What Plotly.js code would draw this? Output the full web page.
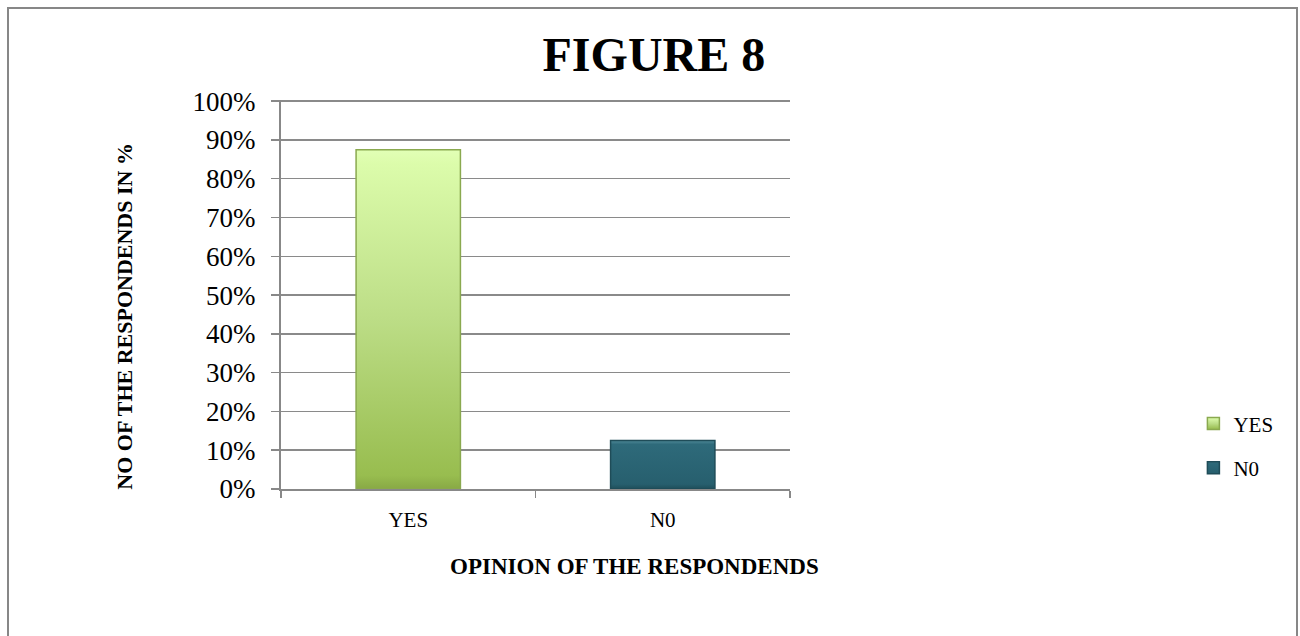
<!DOCTYPE html>
<html>
<head>
<meta charset="utf-8">
<script src="https://cdn.plot.ly/plotly-3.0.1.min.js"></script>
<style>
  html, body { margin: 0; padding: 0; background: #fff; }
  #wrap { position: relative; width: 1300px; height: 636px; overflow: hidden; }
  #chart { width: 1300px; height: 636px; }
  #frame { position: absolute; left: 7px; top: 7px; width: 1291px; height: 660px;
           border: 2px solid #878787; pointer-events: none; box-sizing: border-box; }
</style>
</head>
<body>
<div id="wrap">
  <div id="chart"></div>
  <div id="frame"></div>
</div>
<script>
const categories = ["YES", "N0"];
const seriesNames = ["YES", "N0"];
const values = [87.5, 12.5];
const yTickVals = [0, 10, 20, 30, 40, 50, 60, 70, 80, 90, 100];
const yTickText = ["0%", "10%", "20%", "30%", "40%", "50%", "60%", "70%", "80%", "90%", "100%"];

const fillColors = ["#b6d97a", "#2a6474"];
const lineColors = ["#8aa94f", "#1f4c58"];
const serif = "Liberation Serif, Times New Roman, serif";

const traces = categories.map((c, i) => ({
  type: "bar",
  name: seriesNames[i],
  legendgroup: "g" + i,
  x: [c],
  y: [values[i]],
  marker: { color: fillColors[i], line: { color: lineColors[i], width: 1.5 } },
  hoverinfo: "skip"
}));

const layout = {
  width: 1300,
  height: 636,
  margin: { l: 281, r: 510, t: 100, b: 147, autoexpand: false },
  paper_bgcolor: "#ffffff",
  plot_bgcolor: "#ffffff",
  barmode: "overlay",
  bargap: 0.59,
  showlegend: true,
  title: {
    text: "<b>FIGURE 8</b>",
    font: { family: serif, size: 48, color: "#000" },
    x: 0.503, xanchor: "center",
    y: 0.915, yanchor: "middle"
  },
  xaxis: {
    type: "category",
    categoryorder: "array",
    categoryarray: categories,
    tickson: "boundaries",
    ticks: "outside",
    ticklen: 7,
    tickwidth: 1.5,
    tickcolor: "#888",
    showline: true,
    linecolor: "#888",
    linewidth: 2,
    ticklabelstandoff: 11,
    tickfont: { family: serif, size: 21, color: "#000" },
    fixedrange: true
  },
  yaxis: {
    range: [0, 100.3],
    tickvals: yTickVals,
    ticktext: yTickText,
    ticks: "outside",
    ticklen: 8,
    tickwidth: 1.5,
    tickcolor: "#888",
    showgrid: true,
    gridcolor: "#8a8a8a",
    gridwidth: 1.5,
    showline: true,
    linecolor: "#888",
    linewidth: 2,
    zeroline: false,
    ticklabelstandoff: 10,
    tickfont: { family: serif, size: 27, color: "#000" },
    fixedrange: true
  },
  legend: {
    xref: "container", yref: "container",
    x: 0.918, xanchor: "left",
    y: 0.299, yanchor: "middle",
    font: { family: serif, size: 21, color: "#000" },
    itemwidth: 30,
    tracegroupgap: 14,
    bgcolor: "rgba(0,0,0,0)"
  },
  annotations: [
    {
      text: "<b>OPINION OF THE RESPONDENDS</b>",
      xref: "paper", yref: "paper",
      x: 0.695, y: -0.2, xanchor: "center", yanchor: "middle",
      showarrow: false,
      font: { family: serif, size: 23, color: "#000" }
    },
    {
      text: "<b>NO OF THE RESPONDENDS IN %</b>",
      xref: "paper", yref: "paper",
      x: -0.307, y: 0.445, xanchor: "center", yanchor: "middle",
      textangle: -90,
      showarrow: false,
      font: { family: serif, size: 22, color: "#000" }
    }
  ]
};

function applyGradients(gd) {
  const svg = gd.querySelector("svg.main-svg");
  if (!svg) return;
  const ns = "http://www.w3.org/2000/svg";
  let defs = svg.querySelector("defs");
  if (!defs) { defs = document.createElementNS(ns, "defs"); svg.insertBefore(defs, svg.firstChild); }
  function addGrad(id, stops) {
    if (svg.querySelector("#" + id)) return;
    const g = document.createElementNS(ns, "linearGradient");
    g.setAttribute("id", id);
    g.setAttribute("x1", "0"); g.setAttribute("y1", "0");
    g.setAttribute("x2", "0"); g.setAttribute("y2", "1");
    stops.forEach(s => {
      const st = document.createElementNS(ns, "stop");
      st.setAttribute("offset", s[0]);
      st.setAttribute("stop-color", s[1]);
      g.appendChild(st);
    });
    defs.appendChild(g);
  }
  addGrad("gradYes", [["0", "#e2ffb6"], ["0.04", "#dcfcab"], ["0.5", "#bcdd86"], ["0.96", "#98bd4f"], ["1", "#88a945"]]);
  addGrad("gradNo", [["0", "#4f8a99"], ["0.08", "#2e6a7a"], ["0.9", "#275f6e"], ["1", "#1e4d59"]]);
  const grads = ["url(#gradYes)", "url(#gradNo)"];
  const traceGroups = gd.querySelectorAll(".barlayer .trace");
  traceGroups.forEach((t, i) => {
    t.querySelectorAll("path").forEach(p => { p.style.fill = grads[i]; });
  });
  const legendItems = gd.querySelectorAll(".legend .traces");
  legendItems.forEach((t, i) => {
    t.querySelectorAll(".legendpoints path").forEach(p => { p.style.fill = grads[i]; });
  });
}

Plotly.newPlot("chart", traces, layout, { displayModeBar: false, staticPlot: true }).then(gd => {
  applyGradients(gd);
  gd.on("plotly_afterplot", () => applyGradients(gd));
});
</script>
</body>
</html>
